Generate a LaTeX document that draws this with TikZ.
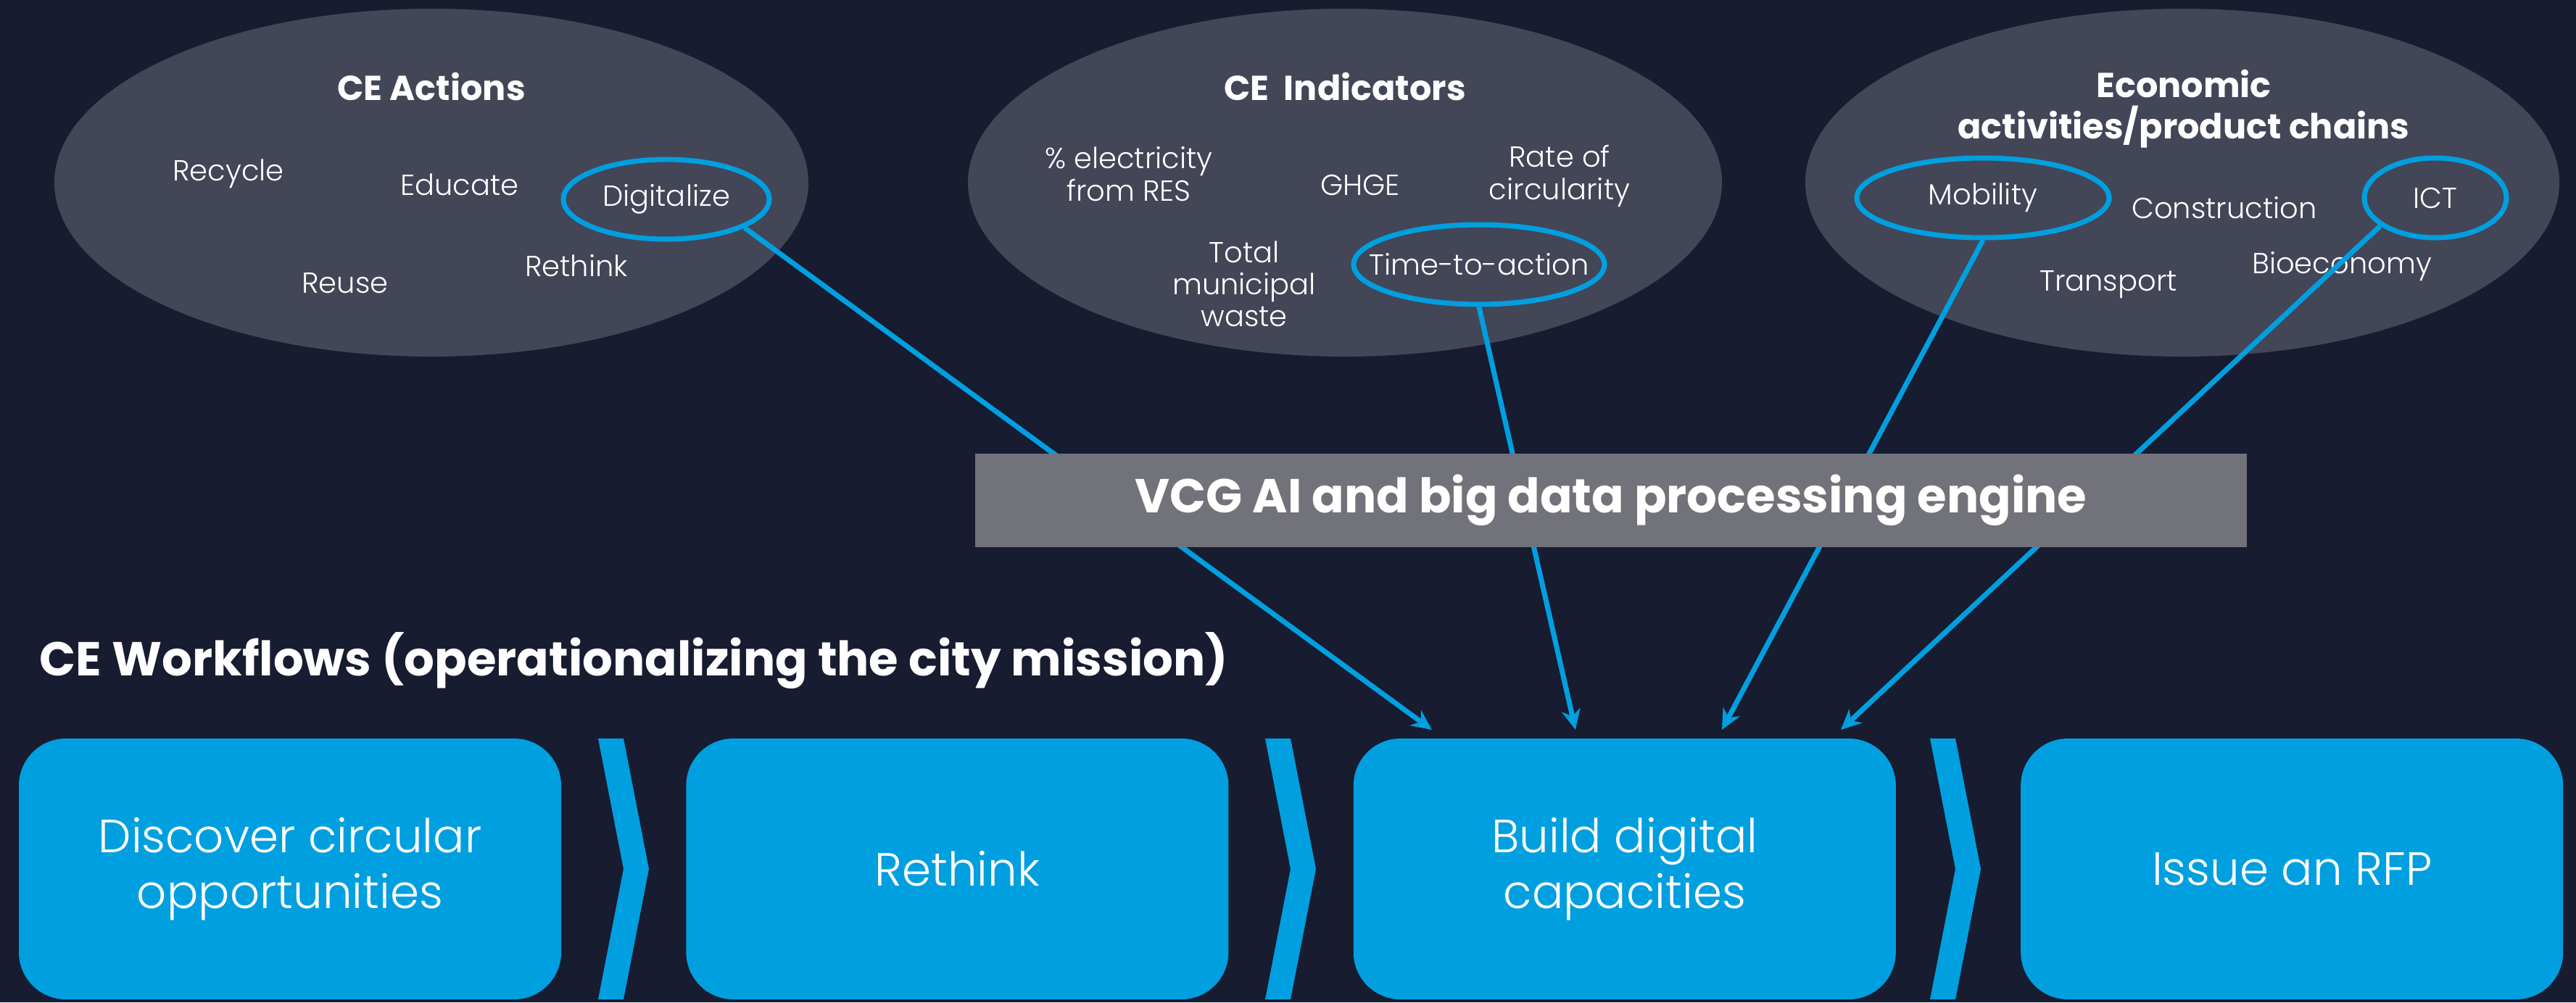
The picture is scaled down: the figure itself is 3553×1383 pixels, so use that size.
\documentclass[tikz,border=0pt]{standalone}
\usepackage{fontspec}
\setmainfont{Poppins}
\newfontfamily\lightfont{Poppins Light}
\usetikzlibrary{shapes.geometric,positioning,arrows.meta}

\definecolor{night}{RGB}{24,28,48}
\definecolor{ovalgray}{RGB}{67,70,87}
\definecolor{cyanblue}{RGB}{0,159,224}
\definecolor{enginegray}{RGB}{114,115,122}

\begin{document}
\begin{tikzpicture}[x=0.1mm,y=-0.1mm,
  oval/.style={ellipse,fill=ovalgray,minimum width=104mm,minimum height=48mm,inner sep=0pt},
  head/.style={text=white,font=\bfseries\fontsize{13.6}{16.2}\selectfont,align=center},
  item/.style={text=white,font=\lightfont\fontsize{11.4}{12.6}\selectfont,align=center,inner sep=0pt},
  pick/.style={ellipse,draw=cyanblue,line width=2pt,minimum height=11mm,inner sep=0pt},
  feed/.style={cyanblue,line width=2pt,-{Stealth[length=2.8mm,width=2.6mm]}},
  stage/.style={rectangle,rounded corners=6.5mm,fill=cyanblue,minimum width=74.8mm,minimum height=36mm,
    text=white,align=center,font=\lightfont\fontsize{18.3}{22}\selectfont},
  bigbold/.style={text=white,font=\bfseries\fontsize{18.7}{22}\selectfont},
  node distance=17.1mm]
\fill[night] (0,0) rectangle (3553,1383);

% the three fields
\node[oval] (actions) at (595,252) {};
\node[oval] (indicators) at (1855,252) {};
\node[oval] (chains) at (3010,252) {};

\node[head] (actionstitle) at (595,120) {CE Actions};
\node[item] (recycle) at (315,240) {Recycle};
\node[item] (educate) at (634,255) {Educate};
\node[item] (rethinkact) at (795,367) {Rethink};
\node[item] (reuse) at (476,391) {Reuse};
\node[pick,minimum width=28.4mm] (digiring) at (919,275) {};
\node[item] (digi) at (digiring) {Digitalize};

\node[head] (indictitle) at (1855,120) {CE~~Indicators};
\node[item] (res) at (1557,240) {\% electricity\\from RES};
\node[item] (ghge) at (1876,255) {GHGE};
\node[item] (rate) at (2151,243) {Rate of\\circularity};
\node[item] (waste) at (1716,392) {Total\\municipal\\waste};
\node[pick,minimum width=34.6mm] (timering) at (2040,365) {};
\node[item] (time) at (timering) {Time-to-action};

\node[head] (chainstitle) at (3012,150) {Economic\\activities/product chains};
\node[item] (construction) at (3068,287) {Construction};
\node[item] (transport) at (2908,393) {Transport};
\node[item] (bio) at (3230,368) {Bioeconomy};
\node[pick,minimum width=34.8mm] (mobring) at (2735,273) {};
\node[item] (mobility) at (mobring) {Mobility};
\node[pick,minimum width=19.6mm] (ictring) at (3359,273) {};
\node[item] (ict) at (ictring) {ICT};

% workflow steps
\node[stage] (discover) at (400,1199) {Discover circular\\opportunities};
\node[stage,right=of discover] (rethink) {Rethink};
\node[stage,right=of rethink] (build) {Build digital\\capacities};
\node[stage,right=of build] (rfp) {Issue an RFP};
\foreach \cx in {825,1745,2662}
  \fill[cyanblue] (\cx,1019) -- ++(35,0) -- ++(35,180) -- ++(-35,180) -- ++(-35,0) -- ++(35,-180) -- cycle;

% feeds into the build step
\coordinate (in1) at (1975,1007);
\coordinate (in2) at (2173,1007);
\coordinate (in3) at (2375,1007);
\coordinate (in4) at (2539,1007);
\draw[feed] (digiring.-20) -- (in1);
\draw[feed] (timering.south) -- (in2);
\draw[feed] (mobring.south) -- (in3);
\draw[feed] (ictring.207) -- (in4);

\node[bigbold,fill=enginegray,minimum width=175.4mm,minimum height=12.9mm] (engine) at (2222,690)
  {VCG AI and big data processing engine};
\node[bigbold,anchor=west,inner sep=0pt] (workflows) at (54,912)
  {CE Workflows (operationalizing the city mission)};
\end{tikzpicture}
\end{document}
